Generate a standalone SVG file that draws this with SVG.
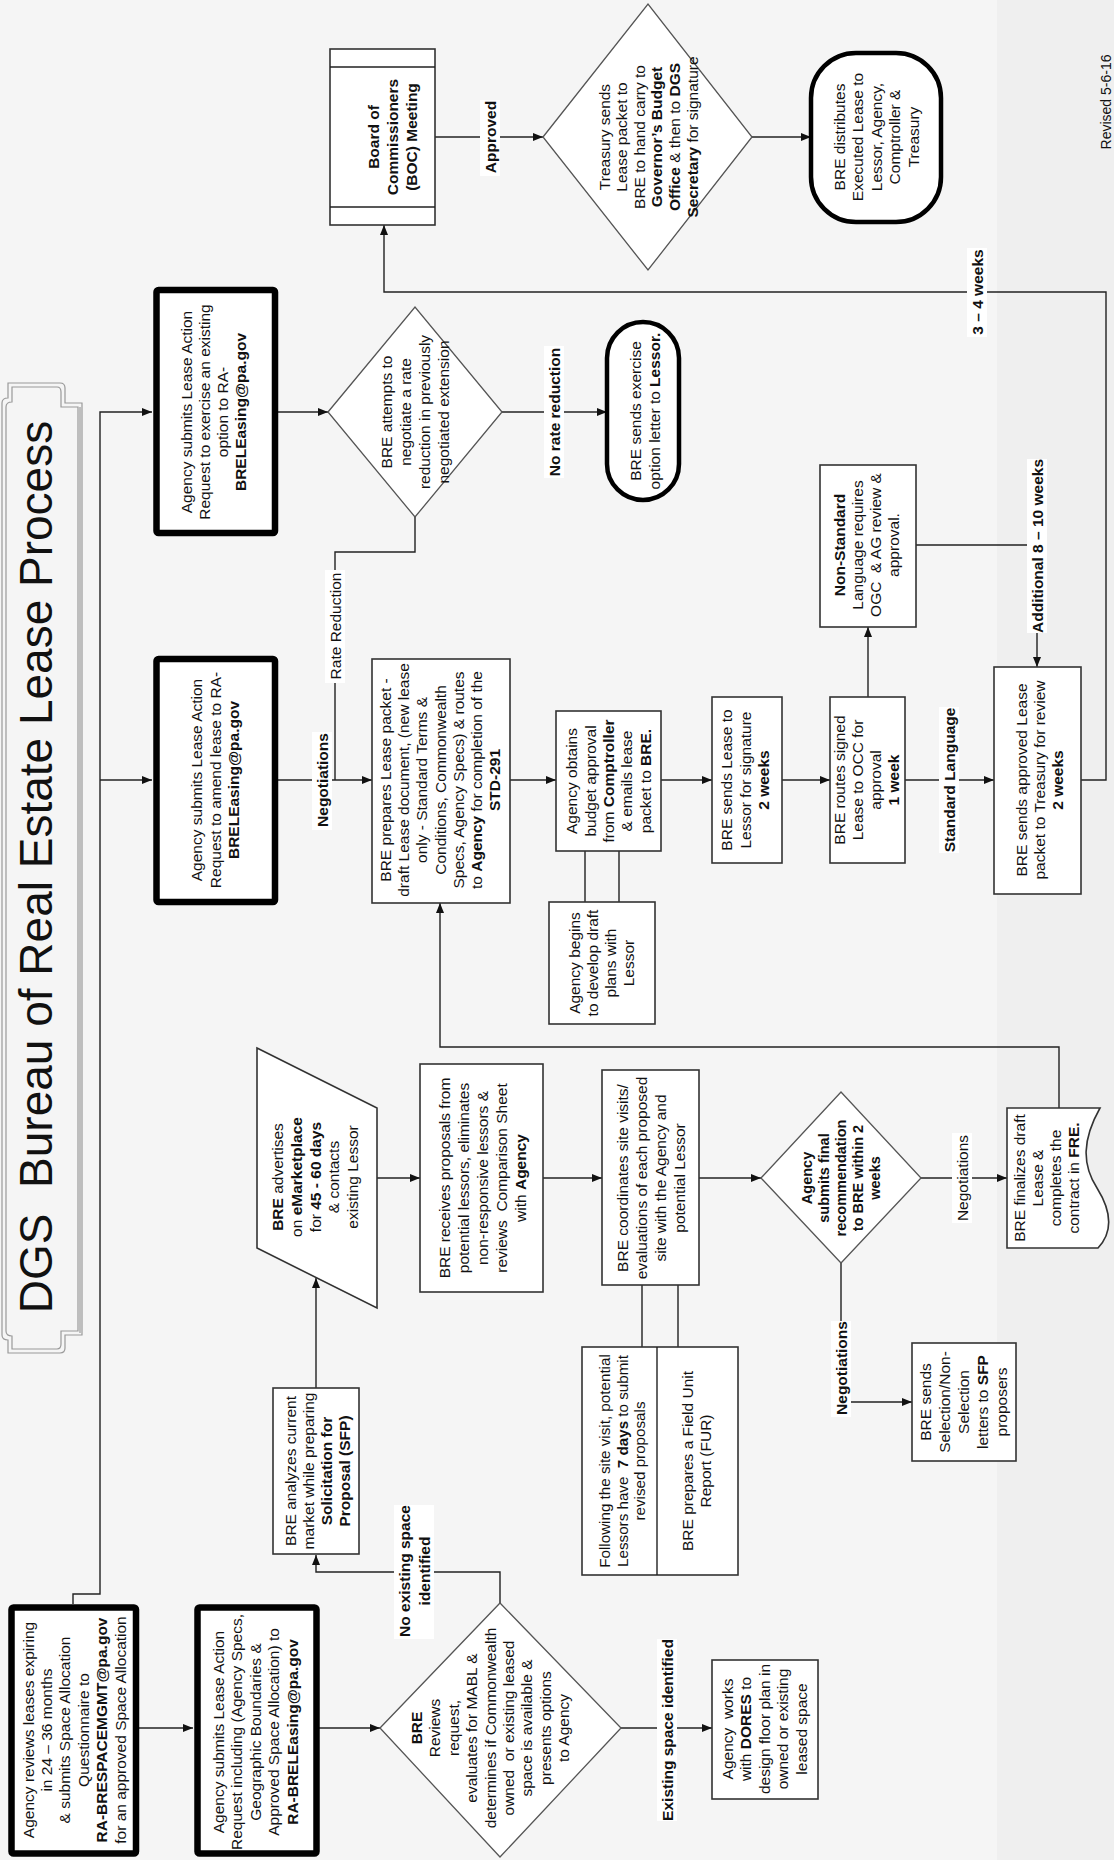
<svg xmlns="http://www.w3.org/2000/svg" width="1114" height="1860" viewBox="0 0 1114 1860">
<defs>
<marker id="ah" viewBox="0 0 10 8" refX="10" refY="4" markerWidth="10" markerHeight="8" markerUnits="userSpaceOnUse" orient="auto"><path d="M0,0 L10,4 L0,8 Z" fill="#111"/></marker>
<style>
.t{font-family:"Liberation Sans",Arial,sans-serif;font-size:15.5px;fill:#111;text-anchor:middle}
.b{font-weight:bold}
.box{fill:#fff;stroke:#333;stroke-width:1.6}
.thick{fill:#fff;stroke:#000;stroke-width:6.5}
.term{fill:#fff;stroke:#000;stroke-width:4.5}
.dia{fill:#fff;stroke:#555;stroke-width:1.3}
.c{fill:none;stroke:#222;stroke-width:1.4}
.a{marker-end:url(#ah)}
.lb{fill:#fff}
.frame{fill:none;stroke:#999;stroke-width:1.2}
</style>
</defs>
<rect x="0" y="0" width="1114" height="1860" fill="#f5f5f5"/>
<rect x="997" y="0" width="117" height="1860" fill="#efefef"/>

<g id="title">
<path class="frame" d="M2,1335 V403 Q2,398 8,398 V383 H60 Q65,383 65,388 V403 H82 V1335 H65 V1348 Q65,1353 60,1353 H8 V1340 Q2,1340 2,1335 Z"/>
<path class="frame" d="M6,1331 V407 Q6,402 12,402 V387 H57 Q61,387 61,392 V407 H78 V1331 H61 V1344 Q61,1349 57,1349 H12 V1336 Q6,1336 6,1331 Z"/>
<path class="frame" d="M80,407 V1333"/>
<text class="t" style="font-size:46px" transform="translate(52,867) rotate(-90)">DGS&#160; Bureau of Real Estate Lease Process</text>
</g>

<g id="connectors">
<path class="c a" d="M73,1604 V1594 H100 V412 H152"/>
<path class="c a" d="M100,780 H152"/>
<path class="c a" d="M139,1728 H193"/>
<path class="c a" d="M319,1728 H380"/>
<path class="c a" d="M500,1603 V1572 H316 V1555"/>
<path class="c a" d="M621,1728 H712"/>
<path class="c a" d="M316,1388 V1278"/>
<path class="c a" d="M377,1178 H420"/>
<path class="c a" d="M543,1178 H602"/>
<path class="c" d="M642,1285 V1347 M678,1285 V1347"/>
<path class="c a" d="M699,1178 H761"/>
<path class="c a" d="M921,1178 H1007"/>
<path class="c a" d="M841,1263 V1402 H912"/>
<path class="c a" d="M1059,1108 V1047 H440 V903"/>
<path class="c a" d="M278,412 H328"/>
<path class="c a" d="M502,412 H607"/>
<path class="c" d="M415,517 V552 H335 V780"/>
<path class="c a" d="M278,780 H372"/>
<path class="c a" d="M510,780 H556"/>
<path class="c" d="M585,851 V902 M619,851 V902"/>
<path class="c a" d="M661,780 H712"/>
<path class="c a" d="M782,780 H830"/>
<path class="c a" d="M868,697 V627"/>
<path class="c a" d="M916,545 H1037 V667"/>
<path class="c a" d="M905,780 H994"/>
<path class="c a" d="M1081,780 H1106 V292 H384 V225"/>
<path class="c a" d="M435,137 H543"/>
<path class="c a" d="M752,137 H811"/>

<rect class="lb" x="312" y="732" width="20" height="98"/>
<text class="t b" transform="translate(327.5,780) rotate(-90)">Negotiations</text>
<rect class="lb" x="325" y="570" width="20" height="113"/>
<text class="t" transform="translate(340.5,626) rotate(-90)">Rate Reduction</text>
<rect class="lb" x="544" y="346" width="20" height="132"/>
<text class="t b" transform="translate(559.5,412) rotate(-90)">No rate reduction</text>
<rect class="lb" x="480" y="100" width="20" height="76"/>
<text class="t b" transform="translate(495.5,137) rotate(-90)">Approved</text>
<rect class="lb" x="967" y="248" width="20" height="89"/>
<text class="t b" transform="translate(982.5,292) rotate(-90)">3 – 4 weeks</text>
<rect class="lb" x="1027" y="459" width="20" height="174"/>
<text class="t b" transform="translate(1042.5,546) rotate(-90)">Additional 8 – 10 weeks</text>
<rect class="lb" x="939" y="707" width="20" height="146"/>
<text class="t b" transform="translate(954.5,780) rotate(-90)">Standard Language</text>
<rect class="lb" x="394" y="1505" width="40" height="134"/>
<text class="t b" transform="translate(414,1571) rotate(-90)"><tspan x="0" y="-4.5">No existing space</tspan><tspan x="0" y="15.5">identified</tspan></text>
<rect class="lb" x="657" y="1639" width="20" height="182"/>
<text class="t b" transform="translate(672.5,1730) rotate(-90)">Existing space identified</text>
<rect class="lb" x="952" y="1133" width="20" height="90"/>
<text class="t" transform="translate(967.5,1178) rotate(-90)">Negotiations</text>
<rect class="lb" x="831" y="1321" width="20" height="96"/>
<text class="t b" transform="translate(846.5,1368) rotate(-90)">Negotiations</text>
</g>

<g id="n-review">
<rect class="thick" x="11.5" y="1607.5" width="124.5" height="246" rx="2"/>
<text class="t" transform="translate(74,1730) rotate(-90)"><tspan x="0" y="-40.5">Agency reviews leases expiring</tspan><tspan x="0" y="-22.1">in 24 – 36 months</tspan><tspan x="0" y="-3.7">&amp; submits Space Allocation</tspan><tspan x="0" y="14.7">Questionnaire to</tspan><tspan x="0" y="33.1" class="b">RA-BRESPACEMGMT@pa.gov</tspan><tspan x="0" y="51.5">for an approved Space Allocation</tspan></text>
</g>

<g id="n-request">
<rect class="thick" x="197.5" y="1607.5" width="119" height="246" rx="2"/>
<text class="t" transform="translate(255,1732) rotate(-90)"><tspan x="0" y="-31.5">Agency submits Lease Action</tspan><tspan x="0" y="-13">Request including (Agency Specs,</tspan><tspan x="0" y="5.5">Geographic Boundaries &amp;</tspan><tspan x="0" y="24">Approved Space Allocation) to</tspan><tspan x="0" y="42.5" class="b">RA-BRELEasing@pa.gov</tspan></text>
</g>

<g id="n-bre-reviews">
<polygon class="dia" points="380,1728 500,1603 621,1728 500,1857"/>
<text class="t" transform="translate(490,1728) rotate(-90)"><tspan x="0" y="-68.1" class="b">BRE</tspan><tspan x="0" y="-49.7">Reviews</tspan><tspan x="0" y="-31.3">request,</tspan><tspan x="0" y="-12.9">evaluates for MABL &amp;</tspan><tspan x="0" y="5.5">determines if Commonwealth</tspan><tspan x="0" y="23.9">owned&#160; or existing leased</tspan><tspan x="0" y="42.3">space is available &amp;</tspan><tspan x="0" y="60.7">presents options</tspan><tspan x="0" y="79.1">to Agency</tspan></text>
</g>

<g id="n-analyzes">
<rect class="box" x="273" y="1388" width="86" height="166"/>
<text class="t" transform="translate(317.5,1471) rotate(-90)"><tspan x="0" y="-21.95">BRE analyzes current</tspan><tspan x="0" y="-3.65">market while preparing</tspan><tspan x="0" y="14.65" class="b">Solicitation for</tspan><tspan x="0" y="32.95" class="b">Proposal (SFP)</tspan></text>
</g>

<g id="n-advertises">
<polygon class="box" points="257,1048 377,1108 377,1308 257,1248"/>
<text class="t" transform="translate(315,1177) rotate(-90)"><tspan x="0" y="-32.1"><tspan class="b">BRE</tspan> advertises</tspan><tspan x="0" y="-13.3">on <tspan class="b">eMarketplace</tspan></tspan><tspan x="0" y="5.5">for <tspan class="b">45 - 60 days</tspan></tspan><tspan x="0" y="24.3">&amp; contacts</tspan><tspan x="0" y="43.1">existing Lessor</tspan></text>
</g>

<g id="n-receives">
<rect class="box" x="420" y="1064" width="123" height="228"/>
<text class="t" transform="translate(482,1178) rotate(-90)"><tspan x="0" y="-32.5">BRE receives proposals from</tspan><tspan x="0" y="-13.5">potential lessors, eliminates</tspan><tspan x="0" y="5.5">non-responsive lessors &amp;</tspan><tspan x="0" y="24.5">reviews&#160; Comparison Sheet</tspan><tspan x="0" y="43.5">with <tspan class="b">Agency</tspan></tspan></text>
</g>

<g id="n-coordinates">
<rect class="box" x="602" y="1070" width="97" height="215"/>
<text class="t" transform="translate(650.5,1178) rotate(-90)"><tspan x="0" y="-23">BRE coordinates site visits/</tspan><tspan x="0" y="-4">evaluations of each proposed</tspan><tspan x="0" y="15">site with the Agency and</tspan><tspan x="0" y="34">potential Lessor</tspan></text>
</g>

<g id="n-following">
<rect class="box" x="582" y="1347" width="156" height="228"/>
<path class="c" d="M657,1347 V1575"/>
<text class="t" style="font-size:15.2px" transform="translate(622,1461) rotate(-90)"><tspan x="0" y="-12">Following the site visit, potential</tspan><tspan x="0" y="5.5">Lessors have&#160; <tspan class="b">7 days</tspan> to submit</tspan><tspan x="0" y="23">revised proposals</tspan></text>
<text class="t" transform="translate(696,1461) rotate(-90)"><tspan x="0" y="-3.5">BRE prepares a Field Unit</tspan><tspan x="0" y="14.5">Report (FUR)</tspan></text>
</g>

<g id="n-recommend">
<polygon class="dia" points="761,1178 841,1092 921,1178 841,1263"/>
<text class="t b" style="font-size:14.5px" transform="translate(840.5,1178) rotate(-90)"><tspan x="0" y="-29">Agency</tspan><tspan x="0" y="-12">submits final</tspan><tspan x="0" y="5">recommendation</tspan><tspan x="0" y="22">to BRE within 2</tspan><tspan x="0" y="39">weeks</tspan></text>
</g>

<g id="n-finalizes">
<path class="box" d="M1007,1108 H1100 C1082,1140 1082,1165 1097,1188 C1112,1212 1113,1232 1098,1248 H1007 Z"/>
<text class="t" transform="translate(1046.5,1178) rotate(-90)"><tspan x="0" y="-21.95">BRE finalizes draft</tspan><tspan x="0" y="-3.65">Lease &amp;</tspan><tspan x="0" y="14.65">completes the</tspan><tspan x="0" y="32.95">contract in <tspan class="b">FRE.</tspan></tspan></text>
</g>

<g id="n-selection">
<rect class="box" x="912" y="1343" width="104" height="118"/>
<text class="t" transform="translate(963,1402) rotate(-90)"><tspan x="0" y="-32.5">BRE sends</tspan><tspan x="0" y="-13.5">Selection/Non-</tspan><tspan x="0" y="5.5">Selection</tspan><tspan x="0" y="24.5">letters to <tspan class="b">SFP</tspan></tspan><tspan x="0" y="43.5">proposers</tspan></text>
</g>

<g id="n-dores">
<rect class="box" x="712" y="1660" width="106" height="139"/>
<text class="t" transform="translate(764,1729) rotate(-90)"><tspan x="0" y="-31.5">Agency&#160; works</tspan><tspan x="0" y="-13">with <tspan class="b">DORES</tspan> to</tspan><tspan x="0" y="5.5">design floor plan in</tspan><tspan x="0" y="24">owned or existing</tspan><tspan x="0" y="42.5">leased space</tspan></text>
</g>

<g id="n-exercise-req">
<rect class="thick" x="156.5" y="290" width="118.5" height="243" rx="2"/>
<text class="t" transform="translate(213.5,412) rotate(-90)"><tspan x="0" y="-21.95">Agency submits Lease Action</tspan><tspan x="0" y="-3.65">Request to exercise an existing</tspan><tspan x="0" y="14.65">option to RA-</tspan><tspan x="0" y="32.95" class="b">BRELEasing@pa.gov</tspan></text>
</g>

<g id="n-amend-req">
<rect class="thick" x="156.5" y="659" width="118.5" height="243" rx="2"/>
<text class="t" transform="translate(215,780) rotate(-90)"><tspan x="0" y="-12.8">Agency submits Lease Action</tspan><tspan x="0" y="5.5">Request to amend lease to RA-</tspan><tspan x="0" y="23.8" class="b">BRELEasing@pa.gov</tspan></text>
</g>

<g id="n-negotiate">
<polygon class="dia" points="328,412 415,307 502,412 415,517"/>
<text class="t" transform="translate(415,412) rotate(-90)"><tspan x="0" y="-22.55">BRE attempts to</tspan><tspan x="0" y="-3.85">negotiate a rate</tspan><tspan x="0" y="14.85">reduction in previously</tspan><tspan x="0" y="33.55">negotiated extension</tspan></text>
</g>

<g id="n-exercise-letter">
<rect class="term" x="607" y="322" width="72" height="178" rx="36"/>
<text class="t" transform="translate(644.5,411) rotate(-90)"><tspan x="0" y="-4">BRE sends exercise</tspan><tspan x="0" y="15">option letter to <tspan class="b">Lessor.</tspan></tspan></text>
</g>

<g id="n-prepares">
<rect class="box" x="372" y="659" width="138" height="244"/>
<text class="t" transform="translate(440,780) rotate(-90)"><tspan x="0" y="-49.1">BRE prepares Lease packet -</tspan><tspan x="0" y="-30.9">draft Lease document, (new lease</tspan><tspan x="0" y="-12.7">only - Standard Terms &amp;</tspan><tspan x="0" y="5.5">Conditions, Commonwealth</tspan><tspan x="0" y="23.7">Specs, Agency Specs) &amp; routes</tspan><tspan x="0" y="41.9">to <tspan class="b">Agency</tspan> for completion of the</tspan><tspan x="0" y="60.1" class="b">STD-291</tspan></text>
</g>

<g id="n-obtains">
<rect class="box" x="556" y="711" width="105" height="140"/>
<text class="t" transform="translate(608.5,781) rotate(-90)"><tspan x="0" y="-31.1">Agency obtains</tspan><tspan x="0" y="-12.8">budget approval</tspan><tspan x="0" y="5.5">from <tspan class="b">Comptroller</tspan></tspan><tspan x="0" y="23.8">&amp; emails lease</tspan><tspan x="0" y="42.1">packet to <tspan class="b">BRE.</tspan></tspan></text>
</g>

<g id="n-begins">
<rect class="box" x="549" y="902" width="106" height="122"/>
<text class="t" transform="translate(601.5,963) rotate(-90)"><tspan x="0" y="-21.95">Agency begins</tspan><tspan x="0" y="-3.65">to develop draft</tspan><tspan x="0" y="14.65">plans with</tspan><tspan x="0" y="32.95">Lessor</tspan></text>
</g>

<g id="n-sends-lessor">
<rect class="box" x="712" y="697" width="70" height="166"/>
<text class="t" transform="translate(745.3,780) rotate(-90)"><tspan x="0" y="-13">BRE sends Lease to</tspan><tspan x="0" y="5.5">Lessor for signature</tspan><tspan x="0" y="24" class="b">2 weeks</tspan></text>
</g>

<g id="n-routes">
<rect class="box" x="830" y="697" width="75" height="166"/>
<text class="t" transform="translate(866.5,780) rotate(-90)"><tspan x="0" y="-21.95">BRE routes signed</tspan><tspan x="0" y="-3.65">Lease to OCC for</tspan><tspan x="0" y="14.65">approval</tspan><tspan x="0" y="32.95" class="b">1 week</tspan></text>
</g>

<g id="n-nonstandard">
<rect class="box" x="820" y="465" width="96" height="162"/>
<text class="t" transform="translate(866.5,545) rotate(-90)"><tspan x="0" y="-21.95" class="b">Non-Standard</tspan><tspan x="0" y="-3.65">Language requires</tspan><tspan x="0" y="14.65">OGC&#160; &amp; AG review &amp;</tspan><tspan x="0" y="32.95">approval.</tspan></text>
</g>

<g id="n-treasury-review">
<rect class="box" x="994" y="667" width="87" height="227"/>
<text class="t" transform="translate(1039,780) rotate(-90)"><tspan x="0" y="-12.5">BRE sends approved Lease</tspan><tspan x="0" y="5.5">packet to Treasury for review</tspan><tspan x="0" y="23.5" class="b">2 weeks</tspan></text>
</g>

<g id="n-boc">
<rect class="box" x="330" y="49" width="105" height="176"/>
<path class="c" d="M330,67 H435 M330,207 H435"/>
<text class="t b" transform="translate(392,137) rotate(-90)"><tspan x="0" y="-13.5">Board of</tspan><tspan x="0" y="5.5">Commissioners</tspan><tspan x="0" y="24.5">(BOC) Meeting</tspan></text>
</g>

<g id="n-treasury-sends">
<polygon class="dia" points="543,137 648,4 752,137 648,270"/>
<text class="t" transform="translate(648,137) rotate(-90)"><tspan x="0" y="-38.5">Treasury sends</tspan><tspan x="0" y="-20.9">Lease packet to</tspan><tspan x="0" y="-3.3">BRE to hand carry to</tspan><tspan x="0" y="14.3" class="b">Governor’s Budget</tspan><tspan x="0" y="31.9"><tspan class="b">Office</tspan> &amp; then to <tspan class="b">DGS</tspan></tspan><tspan x="0" y="49.5"><tspan class="b">Secretary</tspan> for signature</tspan></text>
</g>

<g id="n-distributes">
<rect class="term" x="811" y="53" width="130" height="169" rx="45"/>
<text class="t" transform="translate(876,137) rotate(-90)"><tspan x="0" y="-31.5">BRE distributes</tspan><tspan x="0" y="-13">Executed Lease to</tspan><tspan x="0" y="5.5">Lessor, Agency,</tspan><tspan x="0" y="24">Comptroller &amp;</tspan><tspan x="0" y="42.5">Treasury</tspan></text>
</g>

<g id="revised">
<text class="t" style="font-size:14px" transform="translate(1111,102) rotate(-90)">Revised 5-6-16</text>
</g>
</svg>
